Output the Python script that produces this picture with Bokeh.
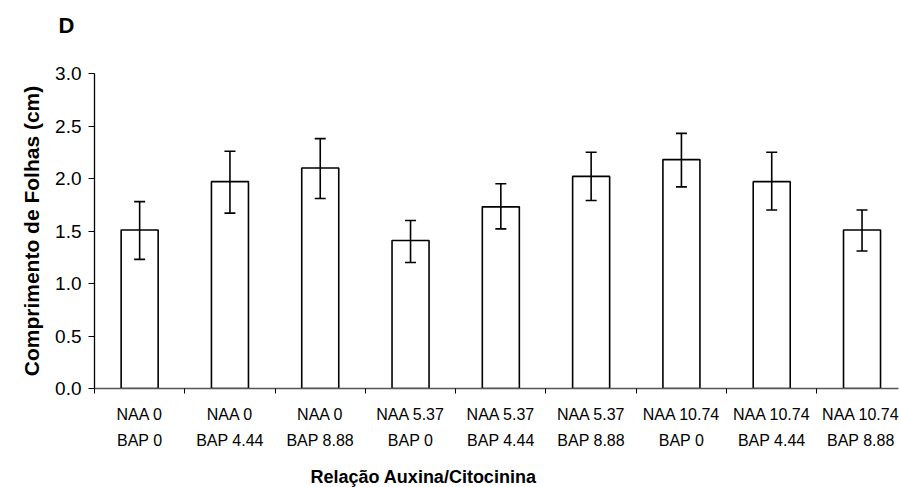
from bokeh.plotting import figure
from bokeh.models import (ColumnDataSource, Range1d, FixedTicker, Whisker, TeeHead,
                          Title, PrintfTickFormatter)
from bokeh.embed import file_html
from bokeh.resources import INLINE

naa_labels = ["NAA 0", "NAA 0", "NAA 0", "NAA 5.37", "NAA 5.37", "NAA 5.37",
              "NAA 10.74", "NAA 10.74", "NAA 10.74"]
bap_labels = ["BAP 0", "BAP 4.44", "BAP 8.88", "BAP 0", "BAP 4.44", "BAP 8.88",
              "BAP 0", "BAP 4.44", "BAP 8.88"]
means = [1.51, 1.97, 2.10, 1.41, 1.73, 2.02, 2.18, 1.97, 1.51]
err_upper = [1.78, 2.26, 2.38, 1.60, 1.95, 2.25, 2.43, 2.25, 1.70]
err_lower = [1.23, 1.67, 1.81, 1.20, 1.52, 1.79, 1.92, 1.70, 1.31]
y_ticks = [0.0, 0.5, 1.0, 1.5, 2.0, 2.5, 3.0]

FONT = "Liberation Sans"
n = len(means)
xpos = [i + 0.5 for i in range(n)]

src = ColumnDataSource(dict(x=xpos, top=means, hi=err_upper, lo=err_lower))

p = figure(width=899, height=487, output_backend="svg", toolbar_location=None,
           x_range=Range1d(0, 8.904), y_range=Range1d(0, 3.0),
           min_border_left=94, min_border_top=73, min_border_bottom=99,
           min_border_right=1)
p.outline_line_color = None
p.xgrid.visible = False
p.ygrid.visible = False
p.background_fill_color = "white"
p.border_fill_color = "white"

p.vbar(x="x", top="top", width=0.41, source=src, fill_color="white",
       line_color="black", line_width=1.6)

w = Whisker(base="x", upper="hi", lower="lo", source=src, line_color="black",
            line_width=1.6, level="overlay",
            upper_head=TeeHead(size=11, line_color="black", line_width=1.6),
            lower_head=TeeHead(size=11, line_color="black", line_width=1.6))
p.add_layout(w)

# x axis
xa = p.xaxis[0]
xa.ticker = FixedTicker(ticks=xpos, minor_ticks=list(range(n + 1)))
xa.major_label_overrides = {x: f"{a}\n{b}" for x, a, b in zip(xpos, naa_labels, bap_labels)}
xa.major_tick_out = 0
xa.major_tick_in = 0
xa.minor_tick_out = 5
xa.minor_tick_in = 0
xa.minor_tick_line_color = "black"
xa.axis_line_color = "#555555"
xa.axis_line_width = 1.3
xa.major_label_text_font = FONT
xa.major_label_text_font_size = "16px"
xa.major_label_text_color = "black"
xa.major_label_text_line_height = 1.55
xa.major_label_standoff = 12
# invisible spacer label to push the title below a little further down
xa.axis_label = "\u00a0"
xa.axis_label_text_font_size = "1px"
xa.axis_label_standoff = 9

# y axis
ya = p.yaxis[0]
ya.ticker = FixedTicker(ticks=y_ticks, minor_ticks=[])
ya.formatter = PrintfTickFormatter(format="%.1f")
ya.major_tick_out = 6
ya.major_tick_in = 0
ya.major_tick_line_color = "black"
ya.axis_line_color = "black"
ya.axis_line_width = 1.3
ya.major_label_text_font = FONT
ya.major_label_text_font_size = "19px"
ya.major_label_text_color = "black"
ya.major_label_standoff = 7
ya.axis_label = "Comprimento de Folhas (cm)"
ya.axis_label_text_font = FONT
ya.axis_label_text_font_size = "21px"
ya.axis_label_text_font_style = "bold"
ya.axis_label_text_color = "black"
ya.axis_label_standoff = 9

# below: x title
xt = Title(text="Relação Auxina/Citocinina", align="left", offset=216,
           text_font=FONT, text_font_size="18px", text_font_style="bold",
           text_color="black", standoff=0)
p.add_layout(xt, "below")

# above: spacer then "D"
p.add_layout(Title(text="\u00a0", text_font_size="17px", text_color="white"), "above")
dt = Title(text="D", align="left", offset=-36, text_font=FONT,
           text_font_size="22px", text_font_style="bold", text_color="black")
p.add_layout(dt, "above")

open("out.html", "w").write(file_html(p, INLINE))
